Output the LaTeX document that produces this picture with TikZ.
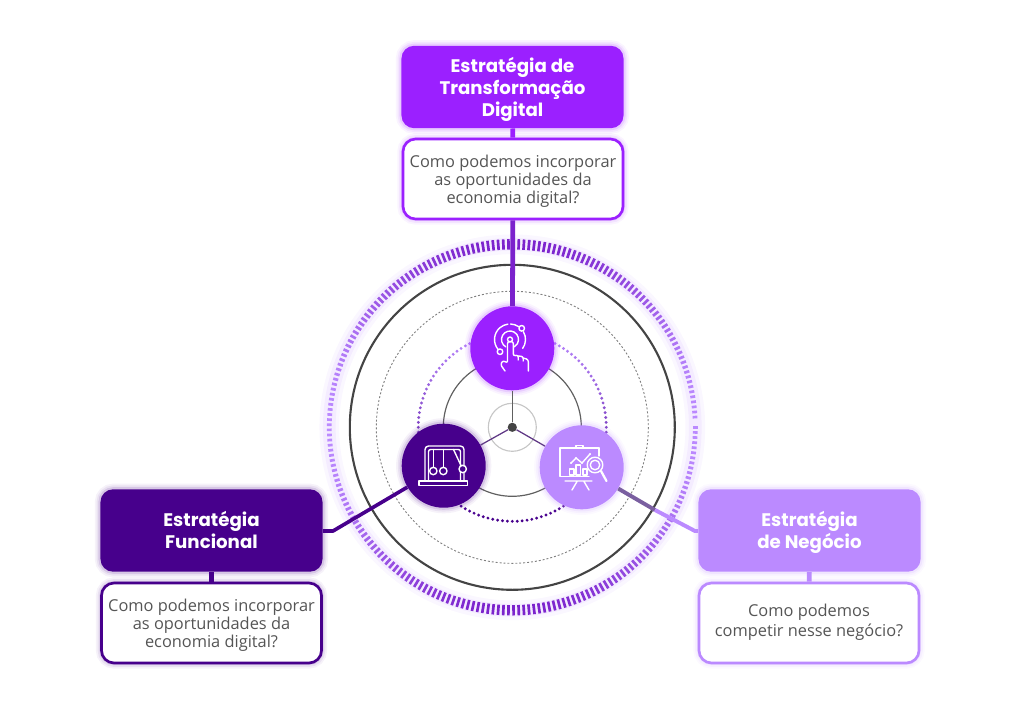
\documentclass[tikz,border=0pt]{standalone}
\usepackage{xcolor}
\usepackage{fontspec}
\newfontfamily\titulofont{Poppins}[BoldFont={Poppins Bold}]
\newfontfamily\perguntafont{Open Sans}
\usepackage{tikz}
\definecolor{roxoForte}{HTML}{9B20FF}
\definecolor{roxoFundo}{HTML}{47008C}
\definecolor{roxoClaro}{HTML}{BB8AFF}
\definecolor{roxoLinha}{HTML}{7B22CC}
\definecolor{textoCinza}{HTML}{555555}
\definecolor{linhaCinza}{HTML}{444444}
\newcommand\topoT{\rule{0pt}{15.2pt}}
\newcommand\topoP{\rule{0pt}{12.7pt}}
\tikzset{
  glow/.style={
    preaction={draw=#1,opacity=.05,line width=8pt},
    preaction={draw=#1,opacity=.07,line width=5.5pt},
    preaction={draw=#1,opacity=.12,line width=3pt}},
  titulo/.style={rounded corners=9pt,fill=#1,glow=#1,text=white,minimum width=5.55cm,minimum height=2.06cm,
    align=center,inner sep=0pt,
    font=\titulofont\bfseries\fontsize{12.95}{15.6}\selectfont},
  pergunta/.style={rounded corners=9pt,draw=#1,fill=white,line width=1.9pt,glow=#1,text=textoCinza,minimum width=5.5cm,minimum height=2cm,
    align=center,inner sep=0pt,
    font=\perguntafont\fontsize{11.65}{12.7}\selectfont},
  icone/.style={circle,fill=#1,glow=#1,minimum size=2.1cm,inner sep=0pt},
  tra/.style={white,line width=1pt,line cap=round,line join=round},
  liga/.style={line width=#1,line join=round}
}
\begin{document}
\begin{tikzpicture}[x=0.025cm,y=-0.025cm]
\useasboundingbox (0,0) rectangle (1024,723);
\draw[roxoClaro,opacity=.07,line width=14pt] (512.3,427.3) circle (183);
\draw[roxoClaro,opacity=.10,line width=9pt] (512.3,427.3) circle (183);
\foreach \a in {0,1.6,...,358.4}{
  \pgfmathsetmacro\mixv{100*sin(\a)*sin(\a)}
  \pgfmathsetmacro\lenv{3.8+1.4*cos(2*\a-180)}
  \draw[roxoLinha!\mixv!roxoClaro,line width=1.9pt,shift={(512.3,427.3)}] (\a:183-\lenv) -- (\a:183+\lenv);
}
\draw[linhaCinza,line width=1.5pt] (512.3,427.3) circle (162.5);
\draw[gray,line width=.65pt,dash pattern=on 1.4pt off 1.4pt] (512.3,427.3) circle (136);
\foreach \a in {0,3,...,357}{
  \pgfmathsetmacro\mixv{50+50*sin(\a)}
  \fill[roxoFundo!\mixv!roxoClaro,shift={(512.3,427.3)}] (\a:94) circle (1.6);
}
\draw[linhaCinza!85,line width=.85pt] (512.3,427.3) circle (69);
\draw[gray!45,line width=.8pt] (512.3,427.3) circle (24);

\node[titulo=roxoForte] (tituloDigital) at (512.5,87) {\topoT Estratégia de\\Transformação\\Digital\strut};
\node[pergunta=roxoForte] (perguntaDigital) at (513,179) {\topoP Como podemos incorporar\\as oportunidades da\\economia digital?\strut};
\node[titulo=roxoFundo] (tituloFuncional) at (211.5,530.5) {\topoT Estratégia\\Funcional\strut};
\node[pergunta=roxoFundo] (perguntaFuncional) at (211.5,623) {\topoP Como podemos incorporar\\as oportunidades da\\economia digital?\strut};
\node[titulo=roxoClaro] (tituloNegocio) at (809.5,530.5) {\topoT Estratégia\\de Negócio\strut};
\node[pergunta=roxoClaro] (perguntaNegocio) at (809,623) {\strut Como podemos\\competir nesse negócio?\strut};

\node[circle,fill=linhaCinza,minimum size=0.23cm,inner sep=0pt] (centro) at (512.3,427.3) {};
\node[icone=roxoForte] (iconeDigital) at (512.3,348.3) {};
\node[icone=roxoFundo] (iconeFuncional) at (443.7,465.7) {};
\node[icone=roxoClaro] (iconeNegocio) at (581.7,467.3) {};

\coordinate (cotoveloF) at (333,531);
\coordinate (cotoveloN) at (695,531);
\coordinate (meioN) at (655,510);

\draw[roxoForte,liga=3.5pt] (tituloDigital) -- (perguntaDigital);
\draw[roxoFundo,liga=3.5pt] (tituloFuncional) -- (perguntaFuncional);
\draw[roxoClaro,liga=3.5pt] (tituloNegocio) -- (perguntaNegocio);
\draw[roxoLinha,liga=3.4pt] (perguntaDigital) -- (iconeDigital);
\draw[roxoFundo,liga=2.6pt] (iconeFuncional) -- (cotoveloF) -- (tituloFuncional.east |- cotoveloF);
\draw[black!35!roxoClaro!85!gray,liga=2.8pt] (iconeNegocio) -- (meioN);
\draw[roxoClaro,liga=2.8pt] (meioN) -- (cotoveloN) -- (tituloNegocio.west |- cotoveloN);
\draw[linhaCinza!85,line width=.85pt] (centro) -- (iconeDigital);
\draw[roxoFundo!55!gray,line width=.9pt] (centro) -- (iconeFuncional);
\draw[roxoFundo!55!gray,line width=.9pt] (centro) -- (iconeNegocio);

\draw[tra] (510,339.5) circle (2.5);
\draw[tra,shift={(510,339.5)}] (120:8.5) arc[start angle=120,end angle=420,radius=8.5];
\draw[tra,shift={(510,339.5)}] (140:15.5) arc[start angle=140,end angle=262,radius=15.5];
\draw[tra,shift={(510,339.5)}] (272:15.5) arc[start angle=272,end angle=304,radius=15.5];
\draw[tra,shift={(510,339.5)}] (330:15.5) arc[start angle=330,end angle=395,radius=15.5];
\draw[tra] (521.7,328.3) circle (2.8);
\draw[tra] (500,351.7) circle (2.8);
\draw[tra,rounded corners=1.5] (505,371) -- (500.5,364.5) -- (503,360.5) -- (507.5,363) -- (507.5,341.5) -- (513.3,341.5) -- (513.3,356) -- (518.2,355) -- (518.2,360);
\draw[tra,rounded corners=1.5] (518.2,356) -- (523.2,356.5) -- (523.2,361);
\draw[tra,rounded corners=1.5] (523.2,358) -- (528.3,359.5) -- (528.3,371);

\draw[tra,rounded corners=2.5] (425,480.5) -- (425,446) -- (464,446) -- (464,480.5);
\draw[tra,rounded corners=1.5] (428.5,480.5) -- (428.5,449.5) -- (460.5,449.5) -- (460.5,480.5);
\draw[tra] (419,481) rectangle (467.5,485.5);
\draw[tra] (433.5,449.5) -- (433.5,467.5);
\draw[tra] (443.5,449.5) -- (443.5,467.5);
\draw[tra] (453.5,449.5) -- (461,465.5);
\draw[tra] (433.3,471) circle (3.7);
\draw[tra] (443.3,471) circle (3.7);
\fill[roxoFundo] (462.7,469) circle (3.7);
\draw[tra] (462.7,469) circle (3.7);

\draw[tra] (599,448) -- (560,448) -- (560,476.5) -- (589,476.5);
\draw[tra] (599,456) -- (599,448) (576,448) -- (576,445.5) -- (583,445.5) -- (583,448);
\draw[tra] (577,481.5) -- (572,490) (584,481.5) -- (589,490) (565,481) -- (592,481);
\draw[tra] (569.5,469) -- (569.5,475) -- (574,475) -- (574,469) -- cycle;
\draw[tra] (576,465) -- (576,475) -- (580.5,475) -- (580.5,465) -- cycle;
\draw[tra] (583,469) -- (583,475) -- (587,475) -- (587,469) -- cycle;
\draw[tra] (571,463) -- (576,458) -- (582,463) -- (590,454);
\fill[white] (571,463) circle (1.2) (576,458) circle (1.2) (582,463) circle (1.2) (590,454) circle (1.2);
\fill[roxoClaro] (595,465) circle (7.8);
\draw[tra] (595,465) circle (7.8);
\draw[tra] (595,465) circle (4.8);
\draw[tra,line width=1.6pt] (601,471) -- (606.5,481);
\end{tikzpicture}
\end{document}
